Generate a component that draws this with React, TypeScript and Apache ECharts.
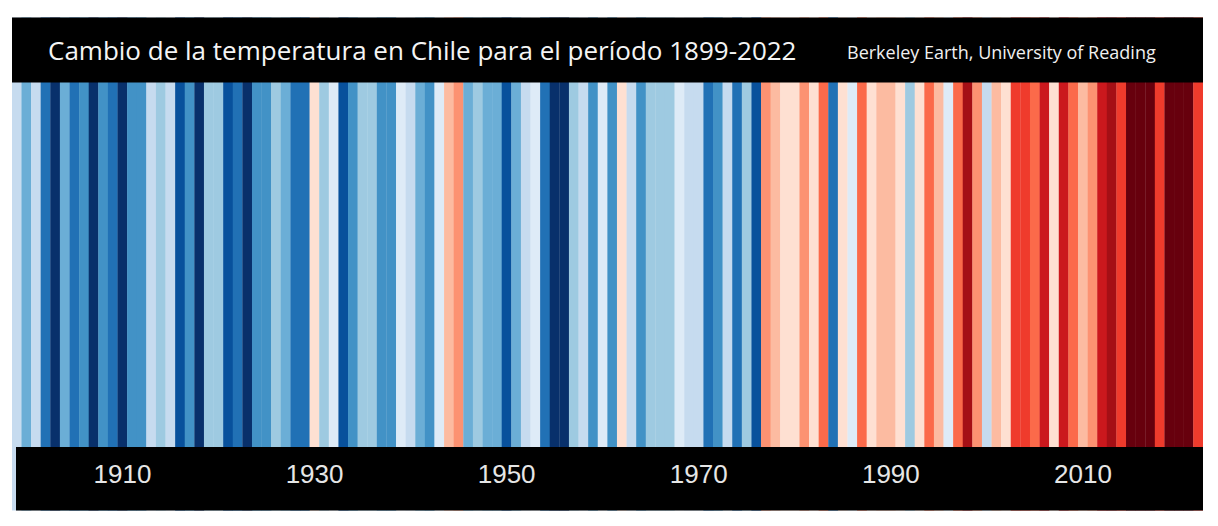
import React, { useEffect, useRef } from "react";
import * as echarts from "echarts";

// Years shown as stripes
const years: string[] = [];
for (let y = 1899; y <= 2022; y++) years.push(String(y));

// Anomaly level per year read from the stripes (-8 coldest .. +8 warmest)
const levels: number[] = [
  -2, -4, -2, -6, -8, -4, -6, -5, -8, -5, // 1899-1908
  -6, -8, -5, -5, -2, -3, -2, -7, -5, -8, // 1909-1918
  -3, -3, -7, -6, -8, -5, -5, -3, -4, -6, // 1919-1928
  -6, 1, -3, -1, -7, -5, -3, -3, -5, -5, // 1929-1938
  -1, -2, -4, -5, -1, 2, 3, -4, -3, -4, // 1939-1948
  -4, -7, -4, -2, -1, -6, -8, -8, -3, -2, // 1949-1958
  -5, -1, -5, 1, -2, -5, -3, -3, -3, -1, // 1959-1968
  -2, -2, -6, -5, -2, -6, -3, -7, 3, 2, // 1969-1978
  1, 1, 3, 1, 4, -6, 1, -1, 4, 1, // 1979-1988
  2, 2, 1, -3, 1, 4, 2, -1, 4, 7, // 1989-1998
  3, -2, 2, 1, 5, 5, 4, 6, 1, 6, // 1999-2008
  4, 2, 3, 6, 7, 5, 8, 8, 8, 5, // 2009-2018
  8, 8, 8, 5, // 2019-2022
];

const levelKeys: number[] = [-8, -7, -6, -5, -4, -3, -2, -1, 1, 2, 3, 4, 5, 6, 7, 8];
const levelColors: string[] = [
  "#08306b", "#08519c", "#2171b5", "#4292c6", "#6baed6", "#9ecae1", "#c6dbef", "#deebf7",
  "#fee0d2", "#fcbba1", "#fc9272", "#fb6a4a", "#ef3b2c", "#cb181d", "#a50f15", "#67000d",
];

const tickYears: string[] = ["1910", "1930", "1950", "1970", "1990", "2010"];

const titleText = "Cambio de la temperatura en Chile para el período 1899-2022";
const sourceText = "Berkeley Earth, University of Reading";

export default function App() {
  const ref = useRef<HTMLDivElement>(null);
  useEffect(() => {
    if (!ref.current) return;
    const chart = echarts.init(ref.current, undefined, { renderer: "svg" });
    const data = years.map((y, i) => [y, 1, levels[i]]);
    chart.setOption({
      animation: false,
      backgroundColor: "#ffffff",
      grid: { left: 12, right: 15, top: 17.5, bottom: 15.5, containLabel: false },
      xAxis: {
        type: "category",
        data: years,
        z: 20,
        axisLine: { show: false },
        axisTick: { show: false },
        splitLine: { show: false },
        axisLabel: {
          inside: true,
          interval: (_idx: number, val: string) => tickYears.includes(val),
          color: "#e6e6e6",
          fontSize: 26,
          fontFamily: "Liberation Sans",
          verticalAlign: "middle",
          margin: 37,
        },
      },
      yAxis: { type: "value", min: 0, max: 1, show: false },
      visualMap: {
        type: "piecewise",
        show: false,
        dimension: 2,
        seriesIndex: 0,
        pieces: levelKeys.map((v, i) => ({ value: v, color: levelColors[i] })),
      },
      series: [
        {
          type: "bar",
          data,
          encode: { x: 0, y: 1 },
          barWidth: "103%",
          barCategoryGap: 0,
          z: 2,
          itemStyle: { borderWidth: 0 },
        },
      ],
      graphic: {
        elements: [
          {
            type: "rect",
            z: 10,
            shape: { x: 0, y: 17.5, width: 12, height: 493 },
            style: { fill: "#ffffff" },
          },
          {
            type: "rect",
            z: 10,
            shape: { x: 1203, y: 17.5, width: 15, height: 493 },
            style: { fill: "#ffffff" },
          },
          {
            type: "rect",
            z: 10,
            shape: { x: 12, y: 17.5, width: 1191, height: 65 },
            style: { fill: "#000000" },
          },
          {
            type: "rect",
            z: 10,
            shape: { x: 16, y: 447, width: 1187, height: 63.5 },
            style: { fill: "#000000" },
          },
          {
            type: "text",
            z: 30,
            x: 48,
            y: 50,
            style: {
              text: titleText,
              fill: "#f4f4f4",
              fontSize: 26,
              fontFamily: "Open Sans",
              verticalAlign: "middle",
            },
          },
          {
            type: "text",
            z: 30,
            x: 847,
            y: 52,
            style: {
              text: sourceText,
              fill: "#f0f0f0",
              fontSize: 18,
              fontFamily: "Open Sans",
              verticalAlign: "middle",
            },
          },
        ],
      },
    });
    return () => chart.dispose();
  }, []);
  return (
    <div
      ref={ref}
      style={{ position: "fixed", left: 0, top: 0, width: 1218, height: 526, background: "#fff" }}
    />
  );
}
